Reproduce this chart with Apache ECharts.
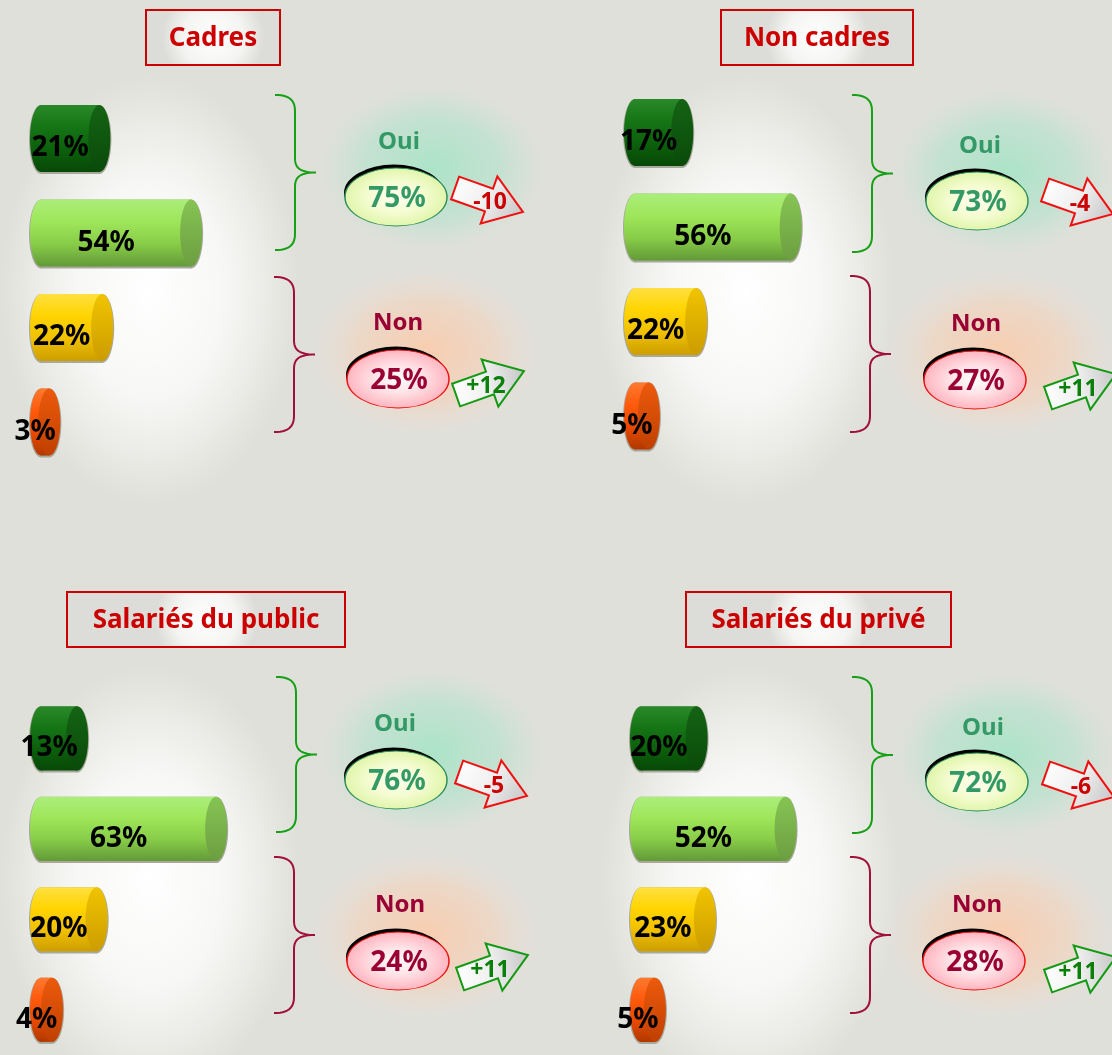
<!DOCTYPE html>
<html><head><meta charset="utf-8">
<script src="https://cdn.jsdelivr.net/npm/echarts@6/dist/echarts.min.js"></script>
<style>html,body{margin:0;padding:0;background:#e0e0da}#c{width:1112px;height:1055px}</style>
</head><body><div id="c"></div>
<script>
// ---------- DATA ----------
const groupTitles = ['Cadres', 'Non cadres', 'Salariés du public', 'Salariés du privé'];
const categories = ['Oui, tout à fait', 'Oui, plutôt', 'Non, plutôt pas', 'Non, pas du tout'];
const cadres     = [21, 54, 22, 3];
const nonCadres  = [17, 56, 22, 5];
const salPublic  = [13, 63, 20, 4];
const salPrive   = [20, 52, 23, 5];
const answerLabels = ['Oui', 'Non'];
const ouiTotals  = [75, 73, 76, 72];
const nonTotals  = [25, 27, 24, 28];
const ouiChanges = [-10, -4, -5, -6];
const nonChanges = [12, 11, 11, 11];
const groupValues = [cadres, nonCadres, salPublic, salPrive];

// ---------- LAYOUT / STYLE ----------
const FONT = '"Noto Sans", "Open Sans", sans-serif';
const layout = [
  {left:30,  top:91.25,  title:[213,37.5,134,55],   brace:[[275,95,250],[274,277,432]],   label:[[399,142],[398,323]], ell:[[396,197],[398,379]], arrow:[[489,200],[490,383]],   glowBar:[150,290], glowOui:[432,168],  glowNon:[425,352]},
  {left:624, top:85.25,  title:[817,37.5,192,55],   brace:[[852,95,252],[850,276,432]],   label:[[980,146],[976,324]], ell:[[977,201],[975,380]], arrow:[[1079,202],[1082,386]], glowBar:[745,290], glowOui:[1005,172], glowNon:[1000,354]},
  {left:30,  top:693.25, title:[206,619.5,278,55],  brace:[[276,677,832],[274,857,1013]], label:[[395,724],[400,905]], ell:[[396,780],[398,961]], arrow:[[493,784],[494,967]],   glowBar:[150,880], glowOui:[432,752],  glowNon:[425,935]},
  {left:630, top:693.25, title:[818.5,619.5,265,55],brace:[[852,677,833],[850,857,1013]], label:[[983,728],[977,905]], ell:[[977,782],[974,961]], arrow:[[1080,785],[1082,969]], glowBar:[750,880], glowOui:[1005,755], glowNon:[1000,935]}
];
const barStyles = [
  {stops:['#2a8a2a','#157515','#0c600c','#074807'], cap:['#146414','#0a4a0a']},
  {stops:['#aaee7a','#9ee65a','#88cc48','#629a38'], cap:['#86c454','#6c9e40']},
  {stops:['#ffe040','#ffd400','#f0c000','#cc9e00'], cap:['#f0c400','#cc9c00']},
  {stops:['#ff7a30','#ff5a0c','#e84a00','#b03800'], cap:['#ec5a0c','#c04000']}
];
const G = echarts.graphic;
function lin(cols){ return new G.LinearGradient(0,0,0,1, cols.map((c,i)=>({offset:i/(cols.length-1), color:c}))); }

function renderCyl(params, api) {
  const v = api.value(0), j = api.value(1);
  const c0 = api.coord([0, j]), c1 = api.coord([v, j]);
  const band = api.size([0, 1])[1];
  const h = band * 0.71, ry = h / 2, rx = 11;
  const x0 = c0[0], x1 = c1[0] + 2 * rx, cy = c0[1];
  const st = barStyles[j];
  const bodyW = Math.max(0, x1 - x0 - 2 * rx);
  const ol = '#a8a89c';
  return {type:'group', children:[
    {type:'ellipse', shape:{cx:x0+rx, cy:cy+1, rx:rx+1, ry:ry+1}, style:{fill:ol}},
    {type:'rect', shape:{x:x0+rx, y:cy-ry, width:bodyW, height:h+2}, style:{fill:ol}},
    {type:'ellipse', shape:{cx:x1-rx, cy:cy+1, rx:rx+1, ry:ry+1}, style:{fill:ol}},
    {type:'ellipse', shape:{cx:x0+rx, cy:cy, rx:rx, ry:ry}, style:{fill:lin(st.stops)}},
    {type:'rect', shape:{x:x0+rx, y:cy-ry, width:bodyW, height:h}, style:{fill:lin(st.stops)}},
    {type:'ellipse', shape:{cx:x1-rx, cy:cy, rx:rx, ry:ry}, style:{fill:lin(st.cap)}},
    {type:'text', x:(x0+x1)/2-10, y:cy+10, z2:10, style:{text:v+'%', font:'bold 28px '+FONT, fill:'#000', align:'center', verticalAlign:'middle', textAlign:'center', textVerticalAlign:'middle'}}
  ]};
}

function glow(cx, cy, rx, ry, stops) {
  return {type:'rect', x:cx, y:cy, scaleY:ry/rx, z:0, silent:true,
    shape:{x:-rx, y:-rx, width:2*rx, height:2*rx},
    style:{fill:new G.RadialGradient(0.5,0.5,0.5, stops.map(s=>({offset:s[0], color:s[1]})))}};
}
function cubic(p0, p1, p2, p3, n, out) {
  for (let k = 1; k <= n; k++) {
    const t = k / n, u = 1 - t;
    out.push([u*u*u*p0[0] + 3*u*u*t*p1[0] + 3*u*t*t*p2[0] + t*t*t*p3[0],
              u*u*u*p0[1] + 3*u*u*t*p1[1] + 3*u*t*t*p2[1] + t*t*t*p3[1]]);
  }
}
function bracePts(x, y0, y1) {
  const m = (y0 + y1) / 2, xv = x + 20, xt = x + 41;
  const pts = [[x, y0]];
  cubic([x,y0],[x+13,y0],[xv,y0+4],[xv,y0+16],12,pts);
  pts.push([xv, m-14]);
  cubic([xv,m-14],[xv,m-4],[xv+6,m],[xt,m],12,pts);
  cubic([xt,m],[xv+6,m],[xv,m+4],[xv,m+14],12,pts);
  pts.push([xv, y1-16]);
  cubic([xv,y1-16],[xv,y1-4],[x+13,y1],[x,y1],12,pts);
  return pts;
}
function txt(x, y, s, size, color) {
  return {type:'text', x:x, y:y, z:30, style:{text:s, font:'bold '+size+'px '+FONT, fill:color, align:'center', verticalAlign:'middle', textAlign:'center', textVerticalAlign:'middle'}};
}
function bubble(cx, cy, value, kind) {
  const rx = 51, ry = 29;
  const fill = kind === 0
    ? new G.RadialGradient(0.5,0.5,0.5,[{offset:0,color:'#ffffee'},{offset:0.55,color:'#f4fcd0'},{offset:1,color:'#e0f5aa'}])
    : new G.RadialGradient(0.5,0.5,0.5,[{offset:0,color:'#ffffff'},{offset:0.5,color:'#ffe0e4'},{offset:1,color:'#ffb4bf'}]);
  const stroke = kind === 0 ? '#2f8f5f' : '#ee1111';
  const tc = kind === 0 ? '#339966' : '#990033';
  return [
    {type:'circle', x:cx-2, y:cy-4, scaleY:ry/rx, z:20, shape:{cx:0, cy:0, r:rx-1}, style:{fill:'#000'}},
    {type:'circle', x:cx, y:cy, scaleY:ry/rx, z:21, shape:{cx:0, cy:0, r:rx}, style:{fill:fill, stroke:stroke, lineWidth:1.5, strokeNoScale:true}},
    txt(cx+1, cy+2, value + '%', 28, tc)
  ];
}
function arrow(cx, cy, delta) {
  const up = delta > 0;
  const pts = [[-36,-12],[0,-12],[0,-25],[36,0],[0,25],[0,12],[-36,12]];
  const col = up ? '#129a12' : '#f01010';
  const tcol = up ? '#0a800a' : '#cc0000';
  return [
    {type:'polygon', x:cx, y:cy, rotation: up ? 0.34 : -0.34, z:20,
     shape:{points:pts},
     style:{fill:new G.LinearGradient(0,0,1,0.3,[{offset:0,color:'#ffffff'},{offset:0.5,color:'#f0f0f0'},{offset:1,color:'#c8c8c8'}]), stroke:col, lineWidth:2}},
    txt(cx + (up ? -4 : 1), cy + (up ? 3 : 2), (up ? '+' : '') + delta, 23, tcol)
  ];
}

// ---------- BUILD ----------
const grids = [], xAxes = [], yAxes = [], series = [], elements = [];
layout.forEach((L, i) => {
  grids.push({left:L.left, top:L.top, width:278, height:378});
  xAxes.push({type:'value', gridIndex:i, min:0, max:100, show:false});
  yAxes.push({type:'category', gridIndex:i, data:categories, inverse:true, show:false});
  series.push({type:'custom', name:groupTitles[i], xAxisIndex:i, yAxisIndex:i, clip:false,
    data: groupValues[i].map((v, j) => [v, j]), encode:{x:0, y:1}, renderItem: renderCyl});

  elements.push(glow(L.glowBar[0], L.glowBar[1], 150, 215, [[0,'rgba(255,255,255,1)'],[0.5,'rgba(255,255,255,0.75)'],[1,'rgba(255,255,255,0)']]));
  elements.push(glow(L.glowOui[0], L.glowOui[1], 115, 85, [[0,'rgba(168,228,198,0.95)'],[0.6,'rgba(182,226,204,0.65)'],[1,'rgba(200,225,212,0)']]));
  elements.push(glow(L.glowNon[0], L.glowNon[1], 115, 85, [[0,'rgba(250,204,172,0.95)'],[0.6,'rgba(244,210,186,0.6)'],[1,'rgba(235,220,210,0)']]));

  const [tx, ty, tw, th] = L.title;
  elements.push({type:'rect', z:25, shape:{x:tx-tw/2, y:ty-th/2, width:tw, height:th},
    style:{fill:new G.RadialGradient(0.5,0.5,0.9,[{offset:0,color:'#ffffff'},{offset:0.6,color:'#f4f4f2'},{offset:1,color:'#dcdcd8'}]), stroke:'#cc0000', lineWidth:2}});
  elements.push(txt(tx, ty+1, groupTitles[i], 26, '#cc0000'));

  const bcol = ['#16a016', '#a0103a'];
  L.brace.forEach((b, k) => elements.push({type:'polyline', z:20, shape:{points:bracePts(b[0], b[1], b[2])}, style:{fill:null, stroke:bcol[k], lineWidth:2}}));

  elements.push(txt(L.label[0][0], L.label[0][1], answerLabels[0], 24, '#339966'));
  elements.push(txt(L.label[1][0], L.label[1][1], answerLabels[1], 24, '#990033'));
  elements.push(...bubble(L.ell[0][0], L.ell[0][1], ouiTotals[i], 0));
  elements.push(...bubble(L.ell[1][0], L.ell[1][1], nonTotals[i], 1));
  elements.push(...arrow(L.arrow[0][0], L.arrow[0][1], ouiChanges[i]));
  elements.push(...arrow(L.arrow[1][0], L.arrow[1][1], nonChanges[i]));
});

const chart = echarts.init(document.getElementById('c'), null, {renderer:'canvas'});
chart.setOption({
  backgroundColor:'#e0e0da',
  animation:false,
  grid:grids, xAxis:xAxes, yAxis:yAxes, series:series,
  graphic:{elements:elements}
});
</script></body></html>
